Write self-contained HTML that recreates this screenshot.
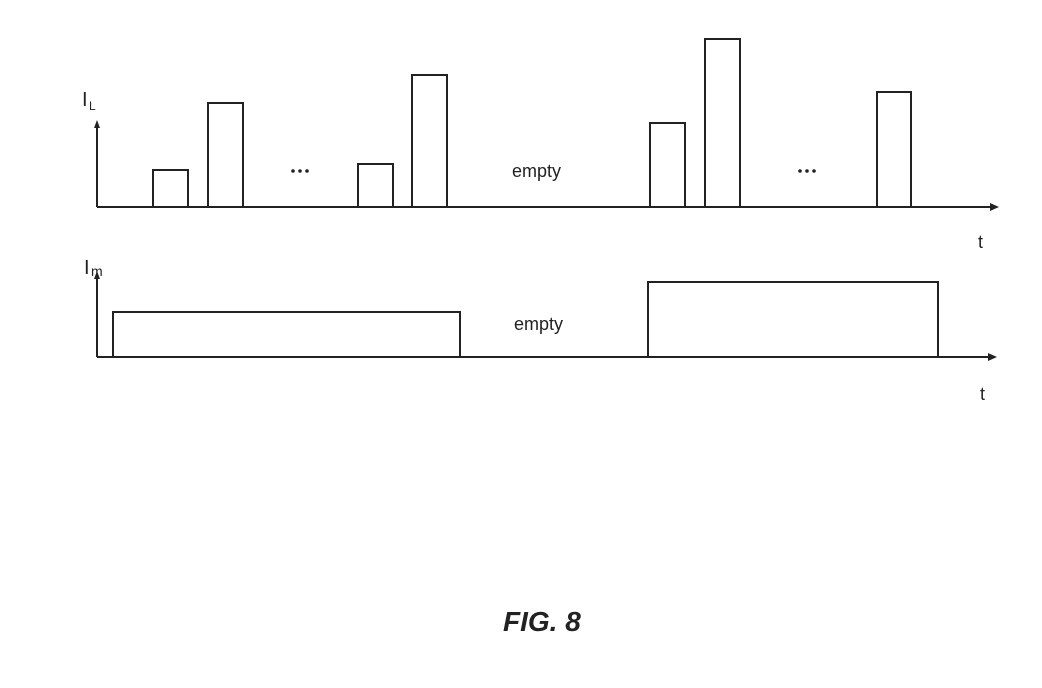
<!DOCTYPE html>
<html><head><style>
html,body{margin:0;padding:0;background:#fff;}
svg{display:block;}
text{font-family:"Liberation Sans",sans-serif;fill:#222;}
</style></head><body>
<svg width="1042" height="688" viewBox="0 0 1042 688">
<g fill="none" stroke="#222" stroke-width="2">
<!-- top chart axes -->
<line x1="97" y1="207" x2="992" y2="207"/>
<line x1="97" y1="207" x2="97" y2="126"/>
<rect x="153" y="170" width="35" height="37"/>
<rect x="208" y="103" width="35" height="104"/>
<rect x="358" y="164" width="35" height="43"/>
<rect x="412" y="75" width="35" height="132"/>
<rect x="650" y="123" width="35" height="84"/>
<rect x="705" y="39" width="35" height="168"/>
<rect x="877" y="92" width="34" height="115"/>
<!-- bottom chart -->
<line x1="97" y1="357" x2="990" y2="357"/>
<line x1="97" y1="357" x2="97" y2="277"/>
<rect x="113" y="312" width="347" height="45"/>
<rect x="648" y="282" width="290" height="75"/>
</g>
<g fill="#222">
<polygon points="999,207 990,203 990,211"/>
<polygon points="997,357 988,353 988,361"/>
<polygon points="97,120 94,128 100,128"/>
<polygon points="97,271 94,279 100,279"/>
<circle cx="293" cy="171" r="1.8"/><circle cx="300" cy="171" r="1.8"/><circle cx="307" cy="171" r="1.8"/>
<circle cx="800" cy="171" r="1.8"/><circle cx="807" cy="171" r="1.8"/><circle cx="814" cy="171" r="1.8"/>
</g>
<text x="82" y="106" font-size="20">I</text><text x="89" y="110" font-size="12">L</text>
<text x="84" y="274" font-size="20">I</text><text x="91" y="276" font-size="14">m</text>
<text x="512" y="177" font-size="18">empty</text>
<text x="514" y="330" font-size="18">empty</text>
<text x="978" y="248" font-size="18">t</text>
<text x="980" y="400" font-size="18">t</text>
<text x="503" y="631" font-size="28" font-weight="bold" font-style="italic">FIG. 8</text>
</svg>
</body></html>
